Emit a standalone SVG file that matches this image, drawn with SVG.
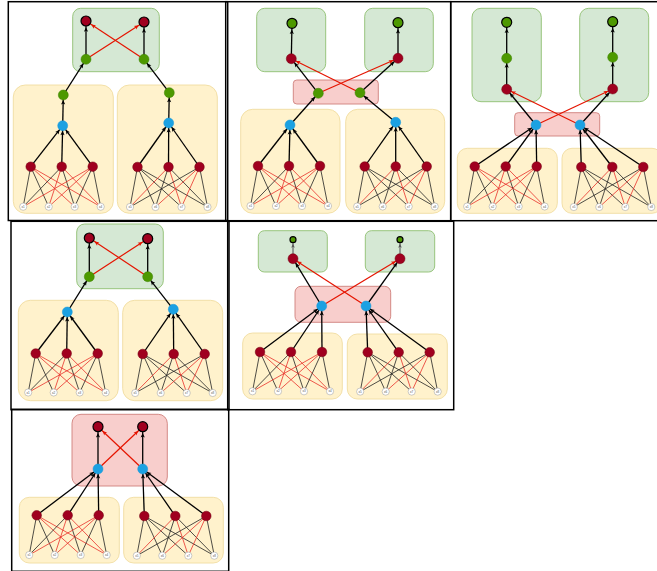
<svg xmlns="http://www.w3.org/2000/svg" width="657" height="571" viewBox="0 0 657 571">
<style>
.pb{fill:none;stroke:#000;stroke-width:1.5}
.gb{fill:#d5e8d4;stroke:#8fc070;stroke-width:0.9}
.yb{fill:#fff2cc;stroke:#f0dca0;stroke-width:0.9}
.pk{fill:#f8cecc;stroke:#cf7f7b;stroke-width:0.9}
.h{fill:#a0001f;stroke:#700010;stroke-width:0.5}
.o{fill:#a0001f;stroke:#000;stroke-width:1.2}
.g{fill:#4d9900;stroke:#3d8000;stroke-width:0.5}
.go{fill:#4d9900;stroke:#000;stroke-width:1.2}
.b{fill:#1ba1e2;stroke:#1b98d8;stroke-width:0.5}
.x{fill:#fff;stroke:#999;stroke-width:0.5}
.xt{font-family:"Liberation Sans",Arial,sans-serif;font-size:3px;fill:#555;text-anchor:middle}
.e{stroke:#000;stroke-width:1.3;fill:none}
.eg{stroke:#666;stroke-width:1.2;fill:none}
.er{stroke:#e51400;stroke-width:1.2;fill:none}
.s{stroke:#222;stroke-width:0.8}
.sr{stroke:#e8302a;stroke-width:0.8}
</style>
<defs>
<marker id="ab5" markerUnits="userSpaceOnUse" orient="auto" overflow="visible" markerWidth="1" markerHeight="1" refX="0" refY="0"><path d="M-5,0 L-9.5,-2.1 L-8.5,0 L-9.5,2.1 Z" fill="#000"/></marker>
<marker id="ab6" markerUnits="userSpaceOnUse" orient="auto" overflow="visible" markerWidth="1" markerHeight="1" refX="0" refY="0"><path d="M-6.2,0 L-10.7,-2.1 L-9.7,0 L-10.7,2.1 Z" fill="#000"/></marker>
<marker id="ab4" markerUnits="userSpaceOnUse" orient="auto" overflow="visible" markerWidth="1" markerHeight="1" refX="0" refY="0"><path d="M-4,0 L-8,-1.8 L-7,0 L-8,1.8 Z" fill="#555"/></marker>
<marker id="ar5" markerUnits="userSpaceOnUse" orient="auto" overflow="visible" markerWidth="1" markerHeight="1" refX="0" refY="0"><path d="M-5,0 L-9.5,-2.1 L-8.5,0 L-9.5,2.1 Z" fill="#e51400"/></marker>
<marker id="ar6" markerUnits="userSpaceOnUse" orient="auto" overflow="visible" markerWidth="1" markerHeight="1" refX="0" refY="0"><path d="M-6.2,0 L-10.7,-2.1 L-9.7,0 L-10.7,2.1 Z" fill="#e51400"/></marker>
</defs>
<rect x="0" y="0" width="657" height="571" fill="#fff"/>

<!-- ================= PANEL 1 ================= -->
<g id="panel1">
<rect class="pb" x="8.3" y="1.7" width="219.4" height="218.8"/>
<g id="p1-top"><rect class="gb" x="72.7" y="8.3" width="86.6" height="63.4" rx="8"/></g>
<g id="p1-boxL"><rect class="yb" x="13.3" y="85" width="100" height="128.3" rx="12"/></g>
<g id="p1-boxR"><rect class="yb" x="117.3" y="85" width="100" height="128.3" rx="12"/></g>
<g id="p1-connectors">
<line class="e" x1="86" y1="59.3" x2="86" y2="21" marker-end="url(#ab6)"/>
<line class="e" x1="144" y1="59.3" x2="144" y2="22" marker-end="url(#ab6)"/>
<line class="er" x1="86" y1="59.3" x2="144" y2="22" marker-end="url(#ar6)"/>
<line class="er" x1="144" y1="59.3" x2="86" y2="21" marker-end="url(#ar6)"/>
<line class="e" x1="63.3" y1="95" x2="86" y2="59.3" marker-end="url(#ab5)"/>
<line class="e" x1="169.3" y1="92.7" x2="144" y2="59.3" marker-end="url(#ab5)"/>
<line class="e" x1="62.7" y1="125.7" x2="63.3" y2="95" marker-end="url(#ab5)"/>
<line class="e" x1="168.7" y1="123" x2="169.3" y2="92.7" marker-end="url(#ab5)"/>
<line class="e" x1="30.7" y1="166.7" x2="62.7" y2="125.7" marker-end="url(#ab5)"/>
<line class="e" x1="61.7" y1="166.7" x2="62.7" y2="125.7" marker-end="url(#ab5)"/>
<line class="e" x1="92.7" y1="166.7" x2="62.7" y2="125.7" marker-end="url(#ab5)"/>
<line class="e" x1="137.5" y1="167" x2="168.7" y2="123" marker-end="url(#ab5)"/>
<line class="e" x1="168.5" y1="167" x2="168.7" y2="123" marker-end="url(#ab5)"/>
<line class="e" x1="199.5" y1="167" x2="168.7" y2="123" marker-end="url(#ab5)"/>
</g>
<g id="p1-o1"><circle class="o" cx="86" cy="21" r="5"/></g>
<g id="p1-o2"><circle class="o" cx="144" cy="22" r="5"/></g>
<g id="p1-g1"><circle class="g" cx="86" cy="59.3" r="5"/></g>
<g id="p1-g2"><circle class="g" cx="144" cy="59.3" r="5"/></g>
<g id="p1-yg1"><circle class="g" cx="63.3" cy="95" r="5"/></g>
<g id="p1-yg2"><circle class="g" cx="169.3" cy="92.7" r="5"/></g>
<g id="p1-b1"><circle class="b" cx="62.7" cy="125.7" r="5"/></g>
<g id="p1-b2"><circle class="b" cx="168.7" cy="123" r="5"/></g>
<g id="p1-netL" transform="translate(30.7,166.7)">
<g class="conn"><line class="s" x1="0" y1="0" x2="-7.5" y2="40"/><line class="s" x1="0" y1="0" x2="18" y2="40"/><line class="sr" x1="0" y1="0" x2="44" y2="40"/><line class="sr" x1="0" y1="0" x2="70" y2="40"/><line class="s" x1="31" y1="0" x2="-7.5" y2="40"/><line class="sr" x1="31" y1="0" x2="18" y2="40"/><line class="s" x1="31" y1="0" x2="44" y2="40"/><line class="sr" x1="31" y1="0" x2="70" y2="40"/><line class="sr" x1="62" y1="0" x2="-7.5" y2="40"/><line class="sr" x1="62" y1="0" x2="18" y2="40"/><line class="s" x1="62" y1="0" x2="44" y2="40"/><line class="s" x1="62" y1="0" x2="70" y2="40"/></g>
<circle class="h" cx="0" cy="0" r="4.8"/><circle class="h" cx="31" cy="0" r="4.8"/><circle class="h" cx="62" cy="0" r="4.8"/>
<circle class="x" cx="-7.5" cy="40" r="3.6"/><text class="xt" x="-7.5" y="41.1">x1</text>
<circle class="x" cx="18" cy="40" r="3.6"/><text class="xt" x="18" y="41.1">x2</text>
<circle class="x" cx="44" cy="40" r="3.6"/><text class="xt" x="44" y="41.1">x3</text>
<circle class="x" cx="70" cy="40" r="3.6"/><text class="xt" x="70" y="41.1">x4</text>
</g>
<g id="p1-netR" transform="translate(137.5,167)">
<g class="conn"><line class="s" x1="0" y1="0" x2="-7.5" y2="40"/><line class="s" x1="0" y1="0" x2="18" y2="40"/><line class="s" x1="0" y1="0" x2="44" y2="40"/><line class="s" x1="0" y1="0" x2="70" y2="40"/><line class="sr" x1="31" y1="0" x2="-7.5" y2="40"/><line class="s" x1="31" y1="0" x2="18" y2="40"/><line class="sr" x1="31" y1="0" x2="44" y2="40"/><line class="s" x1="31" y1="0" x2="70" y2="40"/><line class="s" x1="62" y1="0" x2="-7.5" y2="40"/><line class="sr" x1="62" y1="0" x2="18" y2="40"/><line class="sr" x1="62" y1="0" x2="44" y2="40"/><line class="s" x1="62" y1="0" x2="70" y2="40"/></g>
<circle class="h" cx="0" cy="0" r="4.8"/><circle class="h" cx="31" cy="0" r="4.8"/><circle class="h" cx="62" cy="0" r="4.8"/>
<circle class="x" cx="-7.5" cy="40" r="3.6"/><text class="xt" x="-7.5" y="41.1">x5</text>
<circle class="x" cx="18" cy="40" r="3.6"/><text class="xt" x="18" y="41.1">x6</text>
<circle class="x" cx="44" cy="40" r="3.6"/><text class="xt" x="44" y="41.1">x7</text>
<circle class="x" cx="70" cy="40" r="3.6"/><text class="xt" x="70" y="41.1">x8</text>
</g>
</g>

<!-- ================= PANEL 2 ================= -->
<g id="panel2">
<rect class="pb" x="225.7" y="1.7" width="225" height="219"/>
<g id="p2-topL"><rect class="gb" x="256.7" y="8.3" width="69" height="63.4" rx="8"/></g>
<g id="p2-topR"><rect class="gb" x="364.7" y="8.3" width="68.6" height="63.4" rx="8"/></g>
<g id="p2-mid"><rect class="pk" x="293.3" y="80" width="85" height="24" rx="3.5"/></g>
<g id="p2-boxL"><rect class="yb" x="240.7" y="109.3" width="99.3" height="104" rx="12"/></g>
<g id="p2-boxR"><rect class="yb" x="345.7" y="109.3" width="99" height="104" rx="12"/></g>
<g id="p2-connectors">
<line class="e" x1="291.3" y1="58.7" x2="292" y2="23.3" marker-end="url(#ab6)"/>
<line class="e" x1="398" y1="58.3" x2="398" y2="22.7" marker-end="url(#ab6)"/>
<line class="e" x1="318.3" y1="93.3" x2="291.3" y2="58.7" marker-end="url(#ab5)"/>
<line class="e" x1="360" y1="92.7" x2="398" y2="58.3" marker-end="url(#ab5)"/>
<line class="er" x1="318.3" y1="93.3" x2="398" y2="58.3" marker-end="url(#ar5)"/>
<line class="er" x1="360" y1="92.7" x2="291.3" y2="58.7" marker-end="url(#ar5)"/>
<line class="e" x1="290" y1="125" x2="318.3" y2="93.3" marker-end="url(#ab5)"/>
<line class="e" x1="395.7" y1="122.3" x2="360" y2="92.7" marker-end="url(#ab5)"/>
<line class="e" x1="258" y1="166" x2="290" y2="125" marker-end="url(#ab5)"/>
<line class="e" x1="289" y1="166" x2="290" y2="125" marker-end="url(#ab5)"/>
<line class="e" x1="320" y1="166" x2="290" y2="125" marker-end="url(#ab5)"/>
<line class="e" x1="364.7" y1="166.5" x2="395.7" y2="122.3" marker-end="url(#ab5)"/>
<line class="e" x1="395.7" y1="166.5" x2="395.7" y2="122.3" marker-end="url(#ab5)"/>
<line class="e" x1="426.7" y1="166.5" x2="395.7" y2="122.3" marker-end="url(#ab5)"/>
</g>
<g id="p2-o1"><circle class="go" cx="292" cy="23.3" r="5"/></g>
<g id="p2-o2"><circle class="go" cx="398" cy="22.7" r="5"/></g>
<g id="p2-r1"><circle class="h" cx="291.3" cy="58.7" r="5"/></g>
<g id="p2-r2"><circle class="h" cx="398" cy="58.3" r="5"/></g>
<g id="p2-g1"><circle class="g" cx="318.3" cy="93.3" r="5"/></g>
<g id="p2-g2"><circle class="g" cx="360" cy="92.7" r="5"/></g>
<g id="p2-b1"><circle class="b" cx="290" cy="125" r="5"/></g>
<g id="p2-b2"><circle class="b" cx="395.7" cy="122.3" r="5"/></g>
<g id="p2-netL" transform="translate(258,166)">
<g class="conn"><line class="s" x1="0" y1="0" x2="-7.5" y2="40"/><line class="s" x1="0" y1="0" x2="18" y2="40"/><line class="sr" x1="0" y1="0" x2="44" y2="40"/><line class="sr" x1="0" y1="0" x2="70" y2="40"/><line class="s" x1="31" y1="0" x2="-7.5" y2="40"/><line class="sr" x1="31" y1="0" x2="18" y2="40"/><line class="s" x1="31" y1="0" x2="44" y2="40"/><line class="sr" x1="31" y1="0" x2="70" y2="40"/><line class="sr" x1="62" y1="0" x2="-7.5" y2="40"/><line class="sr" x1="62" y1="0" x2="18" y2="40"/><line class="s" x1="62" y1="0" x2="44" y2="40"/><line class="s" x1="62" y1="0" x2="70" y2="40"/></g>
<circle class="h" cx="0" cy="0" r="4.8"/><circle class="h" cx="31" cy="0" r="4.8"/><circle class="h" cx="62" cy="0" r="4.8"/>
<circle class="x" cx="-7.5" cy="40" r="3.6"/><text class="xt" x="-7.5" y="41.1">x1</text>
<circle class="x" cx="18" cy="40" r="3.6"/><text class="xt" x="18" y="41.1">x2</text>
<circle class="x" cx="44" cy="40" r="3.6"/><text class="xt" x="44" y="41.1">x3</text>
<circle class="x" cx="70" cy="40" r="3.6"/><text class="xt" x="70" y="41.1">x4</text>
</g>
<g id="p2-netR" transform="translate(364.7,166.5)">
<g class="conn"><line class="s" x1="0" y1="0" x2="-7.5" y2="40"/><line class="s" x1="0" y1="0" x2="18" y2="40"/><line class="s" x1="0" y1="0" x2="44" y2="40"/><line class="s" x1="0" y1="0" x2="70" y2="40"/><line class="sr" x1="31" y1="0" x2="-7.5" y2="40"/><line class="s" x1="31" y1="0" x2="18" y2="40"/><line class="sr" x1="31" y1="0" x2="44" y2="40"/><line class="s" x1="31" y1="0" x2="70" y2="40"/><line class="s" x1="62" y1="0" x2="-7.5" y2="40"/><line class="sr" x1="62" y1="0" x2="18" y2="40"/><line class="sr" x1="62" y1="0" x2="44" y2="40"/><line class="s" x1="62" y1="0" x2="70" y2="40"/></g>
<circle class="h" cx="0" cy="0" r="4.8"/><circle class="h" cx="31" cy="0" r="4.8"/><circle class="h" cx="62" cy="0" r="4.8"/>
<circle class="x" cx="-7.5" cy="40" r="3.6"/><text class="xt" x="-7.5" y="41.1">x5</text>
<circle class="x" cx="18" cy="40" r="3.6"/><text class="xt" x="18" y="41.1">x6</text>
<circle class="x" cx="44" cy="40" r="3.6"/><text class="xt" x="44" y="41.1">x7</text>
<circle class="x" cx="70" cy="40" r="3.6"/><text class="xt" x="70" y="41.1">x8</text>
</g>
</g>

<!-- ================= PANEL 3 ================= -->
<g id="panel3">
<rect class="pb" x="450.7" y="1.7" width="210" height="219"/>
<g id="p3-topL"><rect class="gb" x="472" y="8.3" width="69.3" height="93.4" rx="9"/></g>
<g id="p3-topR"><rect class="gb" x="579.7" y="8.3" width="69" height="93.4" rx="9"/></g>
<g id="p3-mid"><rect class="pk" x="514.7" y="112.7" width="85" height="23.3" rx="3.5"/></g>
<g id="p3-boxL"><rect class="yb" x="457.3" y="148.3" width="100" height="65" rx="10"/></g>
<g id="p3-boxR"><rect class="yb" x="562" y="148.3" width="100" height="65" rx="10"/></g>
<g id="p3-connectors">
<line class="e" x1="506.7" y1="58.3" x2="506.7" y2="22.3" marker-end="url(#ab6)"/>
<line class="e" x1="612.7" y1="57.3" x2="612.7" y2="21.7" marker-end="url(#ab6)"/>
<line class="e" x1="506.7" y1="89.3" x2="506.7" y2="58.3" marker-end="url(#ab5)"/>
<line class="e" x1="612.7" y1="89" x2="612.7" y2="57.3" marker-end="url(#ab5)"/>
<line class="e" x1="536" y1="125" x2="506.7" y2="89.3" marker-end="url(#ab5)"/>
<line class="e" x1="580" y1="125" x2="612.7" y2="89" marker-end="url(#ab5)"/>
<line class="er" x1="536" y1="125" x2="612.7" y2="89" marker-end="url(#ar5)"/>
<line class="er" x1="580" y1="125" x2="506.7" y2="89.3" marker-end="url(#ar5)"/>
<line class="e" x1="474.7" y1="166.5" x2="536" y2="125" marker-end="url(#ab5)"/>
<line class="e" x1="505.7" y1="166.5" x2="536" y2="125" marker-end="url(#ab5)"/>
<line class="e" x1="536.7" y1="166.5" x2="536" y2="125" marker-end="url(#ab5)"/>
<line class="e" x1="581.3" y1="167" x2="580" y2="125" marker-end="url(#ab5)"/>
<line class="e" x1="612.3" y1="167" x2="580" y2="125" marker-end="url(#ab5)"/>
<line class="e" x1="643.3" y1="167" x2="580" y2="125" marker-end="url(#ab5)"/>
</g>
<g id="p3-o1"><circle class="go" cx="506.7" cy="22.3" r="5"/></g>
<g id="p3-o2"><circle class="go" cx="612.7" cy="21.7" r="5"/></g>
<g id="p3-g1"><circle class="g" cx="506.7" cy="58.3" r="5"/></g>
<g id="p3-g2"><circle class="g" cx="612.7" cy="57.3" r="5"/></g>
<g id="p3-r1"><circle class="h" cx="506.7" cy="89.3" r="5"/></g>
<g id="p3-r2"><circle class="h" cx="612.7" cy="89" r="5"/></g>
<g id="p3-b1"><circle class="b" cx="536" cy="125" r="5"/></g>
<g id="p3-b2"><circle class="b" cx="580" cy="125" r="5"/></g>
<g id="p3-netL" transform="translate(474.7,166.5)">
<g class="conn"><line class="s" x1="0" y1="0" x2="-7.5" y2="40"/><line class="s" x1="0" y1="0" x2="18" y2="40"/><line class="sr" x1="0" y1="0" x2="44" y2="40"/><line class="sr" x1="0" y1="0" x2="70" y2="40"/><line class="s" x1="31" y1="0" x2="-7.5" y2="40"/><line class="sr" x1="31" y1="0" x2="18" y2="40"/><line class="s" x1="31" y1="0" x2="44" y2="40"/><line class="sr" x1="31" y1="0" x2="70" y2="40"/><line class="sr" x1="62" y1="0" x2="-7.5" y2="40"/><line class="sr" x1="62" y1="0" x2="18" y2="40"/><line class="s" x1="62" y1="0" x2="44" y2="40"/><line class="s" x1="62" y1="0" x2="70" y2="40"/></g>
<circle class="h" cx="0" cy="0" r="4.8"/><circle class="h" cx="31" cy="0" r="4.8"/><circle class="h" cx="62" cy="0" r="4.8"/>
<circle class="x" cx="-7.5" cy="40" r="3.6"/><text class="xt" x="-7.5" y="41.1">x1</text>
<circle class="x" cx="18" cy="40" r="3.6"/><text class="xt" x="18" y="41.1">x2</text>
<circle class="x" cx="44" cy="40" r="3.6"/><text class="xt" x="44" y="41.1">x3</text>
<circle class="x" cx="70" cy="40" r="3.6"/><text class="xt" x="70" y="41.1">x4</text>
</g>
<g id="p3-netR" transform="translate(581.3,167)">
<g class="conn"><line class="s" x1="0" y1="0" x2="-7.5" y2="40"/><line class="s" x1="0" y1="0" x2="18" y2="40"/><line class="s" x1="0" y1="0" x2="44" y2="40"/><line class="s" x1="0" y1="0" x2="70" y2="40"/><line class="sr" x1="31" y1="0" x2="-7.5" y2="40"/><line class="s" x1="31" y1="0" x2="18" y2="40"/><line class="sr" x1="31" y1="0" x2="44" y2="40"/><line class="s" x1="31" y1="0" x2="70" y2="40"/><line class="s" x1="62" y1="0" x2="-7.5" y2="40"/><line class="sr" x1="62" y1="0" x2="18" y2="40"/><line class="sr" x1="62" y1="0" x2="44" y2="40"/><line class="s" x1="62" y1="0" x2="70" y2="40"/></g>
<circle class="h" cx="0" cy="0" r="4.8"/><circle class="h" cx="31" cy="0" r="4.8"/><circle class="h" cx="62" cy="0" r="4.8"/>
<circle class="x" cx="-7.5" cy="40" r="3.6"/><text class="xt" x="-7.5" y="41.1">x5</text>
<circle class="x" cx="18" cy="40" r="3.6"/><text class="xt" x="18" y="41.1">x6</text>
<circle class="x" cx="44" cy="40" r="3.6"/><text class="xt" x="44" y="41.1">x7</text>
<circle class="x" cx="70" cy="40" r="3.6"/><text class="xt" x="70" y="41.1">x8</text>
</g>
</g>

<!-- ================= PANEL 4 ================= -->
<g id="panel4">
<rect class="pb" x="11" y="221.3" width="218" height="188.4"/>
<g id="p4-top"><rect class="gb" x="76.7" y="224" width="86.6" height="64.7" rx="8"/></g>
<g id="p4-boxL"><rect class="yb" x="18.3" y="300.3" width="100" height="100.4" rx="12"/></g>
<g id="p4-boxR"><rect class="yb" x="122.7" y="300.3" width="100" height="100.4" rx="12"/></g>
<g id="p4-connectors">
<line class="e" x1="89.3" y1="276.7" x2="89.3" y2="238" marker-end="url(#ab6)"/>
<line class="e" x1="147.7" y1="276.7" x2="147.7" y2="238.7" marker-end="url(#ab6)"/>
<line class="er" x1="89.3" y1="276.7" x2="147.7" y2="238.7" marker-end="url(#ar6)"/>
<line class="er" x1="147.7" y1="276.7" x2="89.3" y2="238" marker-end="url(#ar6)"/>
<line class="e" x1="67.3" y1="312" x2="89.3" y2="276.7" marker-end="url(#ab5)"/>
<line class="e" x1="173.3" y1="309.3" x2="147.7" y2="276.7" marker-end="url(#ab5)"/>
<line class="e" x1="35.7" y1="353.5" x2="67.3" y2="312" marker-end="url(#ab5)"/>
<line class="e" x1="66.7" y1="353.5" x2="67.3" y2="312" marker-end="url(#ab5)"/>
<line class="e" x1="97.7" y1="353.5" x2="67.3" y2="312" marker-end="url(#ab5)"/>
<line class="e" x1="142.7" y1="354" x2="173.3" y2="309.3" marker-end="url(#ab5)"/>
<line class="e" x1="173.7" y1="354" x2="173.3" y2="309.3" marker-end="url(#ab5)"/>
<line class="e" x1="204.7" y1="354" x2="173.3" y2="309.3" marker-end="url(#ab5)"/>
</g>
<g id="p4-o1"><circle class="o" cx="89.3" cy="238" r="5"/></g>
<g id="p4-o2"><circle class="o" cx="147.7" cy="238.7" r="5"/></g>
<g id="p4-g1"><circle class="g" cx="89.3" cy="276.7" r="5"/></g>
<g id="p4-g2"><circle class="g" cx="147.7" cy="276.7" r="5"/></g>
<g id="p4-b1"><circle class="b" cx="67.3" cy="312" r="5"/></g>
<g id="p4-b2"><circle class="b" cx="173.3" cy="309.3" r="5"/></g>
<g id="p4-netL" transform="translate(35.7,353.5)">
<g class="conn"><line class="s" x1="0" y1="0" x2="-7.5" y2="39"/><line class="s" x1="0" y1="0" x2="18" y2="39"/><line class="sr" x1="0" y1="0" x2="44" y2="39"/><line class="sr" x1="0" y1="0" x2="70" y2="39"/><line class="s" x1="31" y1="0" x2="-7.5" y2="39"/><line class="sr" x1="31" y1="0" x2="18" y2="39"/><line class="s" x1="31" y1="0" x2="44" y2="39"/><line class="sr" x1="31" y1="0" x2="70" y2="39"/><line class="sr" x1="62" y1="0" x2="-7.5" y2="39"/><line class="sr" x1="62" y1="0" x2="18" y2="39"/><line class="s" x1="62" y1="0" x2="44" y2="39"/><line class="s" x1="62" y1="0" x2="70" y2="39"/></g>
<circle class="h" cx="0" cy="0" r="4.8"/><circle class="h" cx="31" cy="0" r="4.8"/><circle class="h" cx="62" cy="0" r="4.8"/>
<circle class="x" cx="-7.5" cy="39" r="3.6"/><text class="xt" x="-7.5" y="40.1">x1</text>
<circle class="x" cx="18" cy="39" r="3.6"/><text class="xt" x="18" y="40.1">x2</text>
<circle class="x" cx="44" cy="39" r="3.6"/><text class="xt" x="44" y="40.1">x3</text>
<circle class="x" cx="70" cy="39" r="3.6"/><text class="xt" x="70" y="40.1">x4</text>
</g>
<g id="p4-netR" transform="translate(142.7,354)">
<g class="conn"><line class="s" x1="0" y1="0" x2="-7.5" y2="39"/><line class="s" x1="0" y1="0" x2="18" y2="39"/><line class="s" x1="0" y1="0" x2="44" y2="39"/><line class="s" x1="0" y1="0" x2="70" y2="39"/><line class="sr" x1="31" y1="0" x2="-7.5" y2="39"/><line class="s" x1="31" y1="0" x2="18" y2="39"/><line class="sr" x1="31" y1="0" x2="44" y2="39"/><line class="s" x1="31" y1="0" x2="70" y2="39"/><line class="s" x1="62" y1="0" x2="-7.5" y2="39"/><line class="sr" x1="62" y1="0" x2="18" y2="39"/><line class="sr" x1="62" y1="0" x2="44" y2="39"/><line class="s" x1="62" y1="0" x2="70" y2="39"/></g>
<circle class="h" cx="0" cy="0" r="4.8"/><circle class="h" cx="31" cy="0" r="4.8"/><circle class="h" cx="62" cy="0" r="4.8"/>
<circle class="x" cx="-7.5" cy="39" r="3.6"/><text class="xt" x="-7.5" y="40.1">x5</text>
<circle class="x" cx="18" cy="39" r="3.6"/><text class="xt" x="18" y="40.1">x6</text>
<circle class="x" cx="44" cy="39" r="3.6"/><text class="xt" x="44" y="40.1">x7</text>
<circle class="x" cx="70" cy="39" r="3.6"/><text class="xt" x="70" y="40.1">x8</text>
</g>
</g>

<!-- ================= PANEL 5 ================= -->
<g id="panel5">
<rect class="pb" x="227.7" y="221.3" width="226" height="188.4"/>
<g id="p5-topL"><rect class="gb" x="258.3" y="230.7" width="69" height="41.3" rx="6"/></g>
<g id="p5-topR"><rect class="gb" x="365.3" y="230.7" width="69.4" height="41.3" rx="6"/></g>
<g id="p5-mid"><rect class="pk" x="295" y="286.3" width="95.7" height="36" rx="6"/></g>
<g id="p5-boxL"><rect class="yb" x="242.7" y="333" width="99.6" height="66" rx="10"/></g>
<g id="p5-boxR"><rect class="yb" x="347.3" y="334" width="100" height="65" rx="10"/></g>
<g id="p5-connectors">
<line class="eg" x1="293" y1="258.7" x2="293" y2="239.7" marker-end="url(#ab4)"/>
<line class="eg" x1="400" y1="258.7" x2="400" y2="239.7" marker-end="url(#ab4)"/>
<line class="e" x1="321.7" y1="306" x2="293" y2="258.7" marker-end="url(#ab5)"/>
<line class="e" x1="366" y1="306" x2="400" y2="258.7" marker-end="url(#ab5)"/>
<line class="er" x1="321.7" y1="306" x2="400" y2="258.7" marker-end="url(#ar5)"/>
<line class="er" x1="366" y1="306" x2="293" y2="258.7" marker-end="url(#ar5)"/>
<line class="e" x1="260" y1="352" x2="321.7" y2="306" marker-end="url(#ab5)"/>
<line class="e" x1="291" y1="352" x2="321.7" y2="306" marker-end="url(#ab5)"/>
<line class="e" x1="322" y1="352" x2="321.7" y2="306" marker-end="url(#ab5)"/>
<line class="e" x1="367.7" y1="352.3" x2="366" y2="306" marker-end="url(#ab5)"/>
<line class="e" x1="398.7" y1="352.3" x2="366" y2="306" marker-end="url(#ab5)"/>
<line class="e" x1="429.7" y1="352.3" x2="366" y2="306" marker-end="url(#ab5)"/>
</g>
<g id="p5-o1"><circle class="go" cx="293" cy="239.7" r="3"/></g>
<g id="p5-o2"><circle class="go" cx="400" cy="239.7" r="3"/></g>
<g id="p5-r1"><circle class="h" cx="293" cy="258.7" r="5"/></g>
<g id="p5-r2"><circle class="h" cx="400" cy="258.7" r="5"/></g>
<g id="p5-b1"><circle class="b" cx="321.7" cy="306" r="5"/></g>
<g id="p5-b2"><circle class="b" cx="366" cy="306" r="5"/></g>
<g id="p5-netL" transform="translate(260,352)">
<g class="conn"><line class="s" x1="0" y1="0" x2="-7.5" y2="39.3"/><line class="s" x1="0" y1="0" x2="18" y2="39.3"/><line class="sr" x1="0" y1="0" x2="44" y2="39.3"/><line class="sr" x1="0" y1="0" x2="70" y2="39.3"/><line class="s" x1="31" y1="0" x2="-7.5" y2="39.3"/><line class="sr" x1="31" y1="0" x2="18" y2="39.3"/><line class="s" x1="31" y1="0" x2="44" y2="39.3"/><line class="sr" x1="31" y1="0" x2="70" y2="39.3"/><line class="sr" x1="62" y1="0" x2="-7.5" y2="39.3"/><line class="sr" x1="62" y1="0" x2="18" y2="39.3"/><line class="s" x1="62" y1="0" x2="44" y2="39.3"/><line class="s" x1="62" y1="0" x2="70" y2="39.3"/></g>
<circle class="h" cx="0" cy="0" r="4.8"/><circle class="h" cx="31" cy="0" r="4.8"/><circle class="h" cx="62" cy="0" r="4.8"/>
<circle class="x" cx="-7.5" cy="39.3" r="3.6"/><text class="xt" x="-7.5" y="40.4">x1</text>
<circle class="x" cx="18" cy="39.3" r="3.6"/><text class="xt" x="18" y="40.4">x2</text>
<circle class="x" cx="44" cy="39.3" r="3.6"/><text class="xt" x="44" y="40.4">x3</text>
<circle class="x" cx="70" cy="39.3" r="3.6"/><text class="xt" x="70" y="40.4">x4</text>
</g>
<g id="p5-netR" transform="translate(367.7,352.3)">
<g class="conn"><line class="s" x1="0" y1="0" x2="-7.5" y2="39.3"/><line class="s" x1="0" y1="0" x2="18" y2="39.3"/><line class="s" x1="0" y1="0" x2="44" y2="39.3"/><line class="s" x1="0" y1="0" x2="70" y2="39.3"/><line class="sr" x1="31" y1="0" x2="-7.5" y2="39.3"/><line class="s" x1="31" y1="0" x2="18" y2="39.3"/><line class="sr" x1="31" y1="0" x2="44" y2="39.3"/><line class="s" x1="31" y1="0" x2="70" y2="39.3"/><line class="s" x1="62" y1="0" x2="-7.5" y2="39.3"/><line class="sr" x1="62" y1="0" x2="18" y2="39.3"/><line class="sr" x1="62" y1="0" x2="44" y2="39.3"/><line class="s" x1="62" y1="0" x2="70" y2="39.3"/></g>
<circle class="h" cx="0" cy="0" r="4.8"/><circle class="h" cx="31" cy="0" r="4.8"/><circle class="h" cx="62" cy="0" r="4.8"/>
<circle class="x" cx="-7.5" cy="39.3" r="3.6"/><text class="xt" x="-7.5" y="40.4">x5</text>
<circle class="x" cx="18" cy="39.3" r="3.6"/><text class="xt" x="18" y="40.4">x6</text>
<circle class="x" cx="44" cy="39.3" r="3.6"/><text class="xt" x="44" y="40.4">x7</text>
<circle class="x" cx="70" cy="39.3" r="3.6"/><text class="xt" x="70" y="40.4">x8</text>
</g>
</g>

<!-- ================= PANEL 6 ================= -->
<g id="panel6">
<rect class="pb" x="11.7" y="409.3" width="217" height="162"/>
<g id="p6-top"><rect class="pk" x="72" y="414.3" width="95.3" height="71.7" rx="9"/></g>
<g id="p6-boxL"><rect class="yb" x="19.3" y="497.3" width="100" height="65.7" rx="10"/></g>
<g id="p6-boxR"><rect class="yb" x="123.7" y="497.3" width="99.6" height="65.7" rx="10"/></g>
<g id="p6-connectors">
<line class="e" x1="98" y1="469" x2="98" y2="426.7" marker-end="url(#ab6)"/>
<line class="e" x1="142.7" y1="469" x2="142.7" y2="426.7" marker-end="url(#ab6)"/>
<line class="er" x1="98" y1="469" x2="142.7" y2="426.7" marker-end="url(#ar6)"/>
<line class="er" x1="142.7" y1="469" x2="98" y2="426.7" marker-end="url(#ar6)"/>
<line class="e" x1="36.7" y1="515.3" x2="98" y2="469" marker-end="url(#ab5)"/>
<line class="e" x1="67.7" y1="515.3" x2="98" y2="469" marker-end="url(#ab5)"/>
<line class="e" x1="98.7" y1="515.3" x2="98" y2="469" marker-end="url(#ab5)"/>
<line class="e" x1="144.3" y1="516" x2="142.7" y2="469" marker-end="url(#ab5)"/>
<line class="e" x1="175.3" y1="516" x2="142.7" y2="469" marker-end="url(#ab5)"/>
<line class="e" x1="206.3" y1="516" x2="142.7" y2="469" marker-end="url(#ab5)"/>
</g>
<g id="p6-o1"><circle class="o" cx="98" cy="426.7" r="5"/></g>
<g id="p6-o2"><circle class="o" cx="142.7" cy="426.7" r="5"/></g>
<g id="p6-b1"><circle class="b" cx="98" cy="469" r="5"/></g>
<g id="p6-b2"><circle class="b" cx="142.7" cy="469" r="5"/></g>
<g id="p6-netL" transform="translate(36.7,515.3)">
<g class="conn"><line class="s" x1="0" y1="0" x2="-7.5" y2="39.7"/><line class="s" x1="0" y1="0" x2="18" y2="39.7"/><line class="sr" x1="0" y1="0" x2="44" y2="39.7"/><line class="sr" x1="0" y1="0" x2="70" y2="39.7"/><line class="s" x1="31" y1="0" x2="-7.5" y2="39.7"/><line class="sr" x1="31" y1="0" x2="18" y2="39.7"/><line class="s" x1="31" y1="0" x2="44" y2="39.7"/><line class="sr" x1="31" y1="0" x2="70" y2="39.7"/><line class="sr" x1="62" y1="0" x2="-7.5" y2="39.7"/><line class="sr" x1="62" y1="0" x2="18" y2="39.7"/><line class="s" x1="62" y1="0" x2="44" y2="39.7"/><line class="s" x1="62" y1="0" x2="70" y2="39.7"/></g>
<circle class="h" cx="0" cy="0" r="4.8"/><circle class="h" cx="31" cy="0" r="4.8"/><circle class="h" cx="62" cy="0" r="4.8"/>
<circle class="x" cx="-7.5" cy="39.7" r="3.6"/><text class="xt" x="-7.5" y="40.8">x1</text>
<circle class="x" cx="18" cy="39.7" r="3.6"/><text class="xt" x="18" y="40.8">x2</text>
<circle class="x" cx="44" cy="39.7" r="3.6"/><text class="xt" x="44" y="40.8">x3</text>
<circle class="x" cx="70" cy="39.7" r="3.6"/><text class="xt" x="70" y="40.8">x4</text>
</g>
<g id="p6-netR" transform="translate(144.3,516)">
<g class="conn"><line class="s" x1="0" y1="0" x2="-7.5" y2="39.7"/><line class="s" x1="0" y1="0" x2="18" y2="39.7"/><line class="s" x1="0" y1="0" x2="44" y2="39.7"/><line class="s" x1="0" y1="0" x2="70" y2="39.7"/><line class="sr" x1="31" y1="0" x2="-7.5" y2="39.7"/><line class="s" x1="31" y1="0" x2="18" y2="39.7"/><line class="sr" x1="31" y1="0" x2="44" y2="39.7"/><line class="s" x1="31" y1="0" x2="70" y2="39.7"/><line class="s" x1="62" y1="0" x2="-7.5" y2="39.7"/><line class="sr" x1="62" y1="0" x2="18" y2="39.7"/><line class="sr" x1="62" y1="0" x2="44" y2="39.7"/><line class="s" x1="62" y1="0" x2="70" y2="39.7"/></g>
<circle class="h" cx="0" cy="0" r="4.8"/><circle class="h" cx="31" cy="0" r="4.8"/><circle class="h" cx="62" cy="0" r="4.8"/>
<circle class="x" cx="-7.5" cy="39.7" r="3.6"/><text class="xt" x="-7.5" y="40.8">x5</text>
<circle class="x" cx="18" cy="39.7" r="3.6"/><text class="xt" x="18" y="40.8">x6</text>
<circle class="x" cx="44" cy="39.7" r="3.6"/><text class="xt" x="44" y="40.8">x7</text>
<circle class="x" cx="70" cy="39.7" r="3.6"/><text class="xt" x="70" y="40.8">x8</text>
</g>
</g>
</svg>
